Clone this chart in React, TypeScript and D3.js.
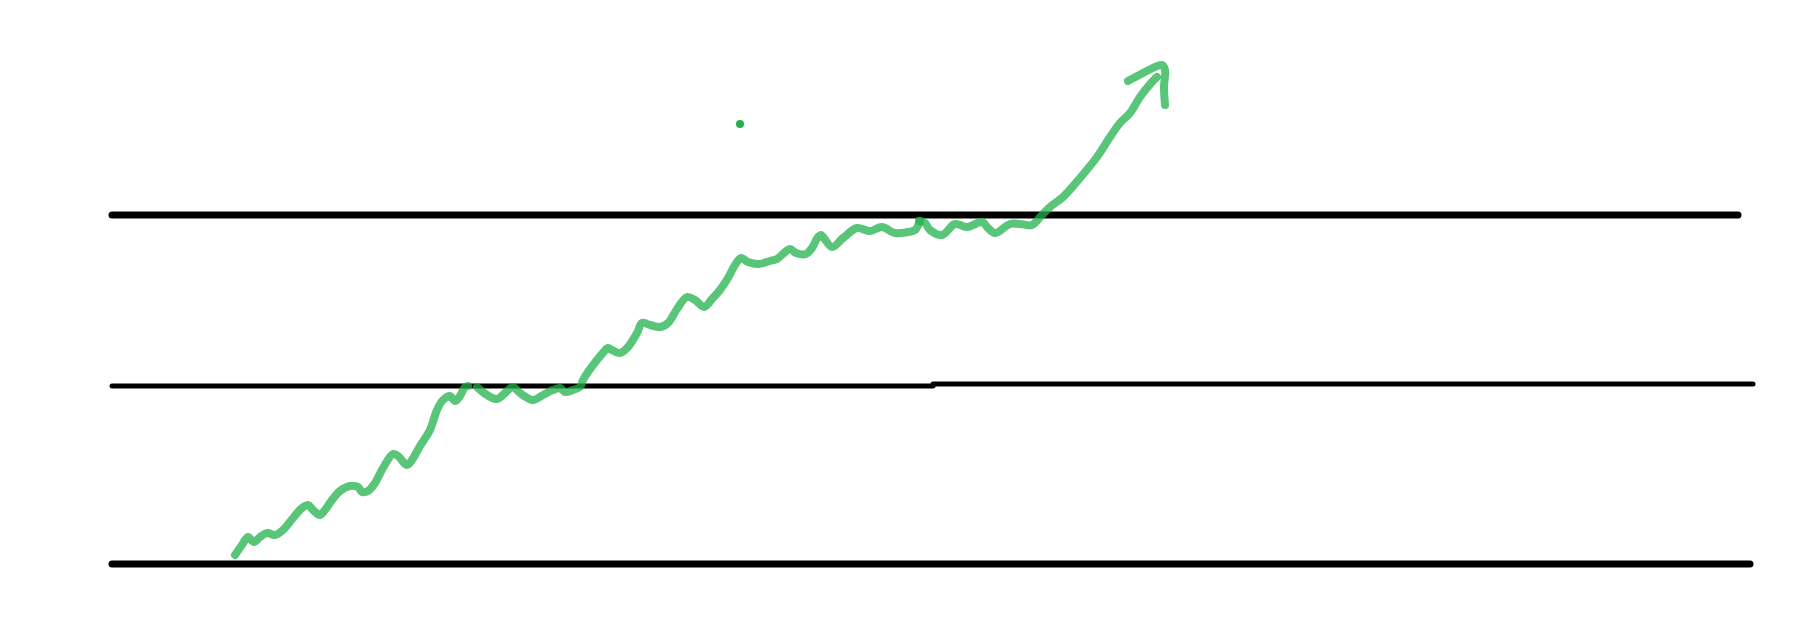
import * as d3 from "d3";
import React from "react";

// hand drawn trend chart: three guide lines and a wobbly green line with an arrow
const W = 1809;
const H = 636;

// guide levels (value units) and their extents along x
const guideLevels = [
  { x0: 0, x1: 163.8, y: 0, w: 7 },
  { x0: 0, x1: 82.1, y: 17.8, w: 5 },
  { x0: 82.1, x1: 164.1, y: 18.0, w: 5 },
  { x0: 0, x1: 162.6, y: 34.9, w: 7 },
];

// the green line was drawn in three strokes
const strokeA: [number, number][] = [
  [12.3, 0.9], [13.0, 1.9], [13.6, 2.7], [14.2, 2.2], [14.8, 2.7], [15.5, 3.1],
  [16.3, 2.9], [17.1, 3.4], [18.1, 4.6], [19.0, 5.6], [19.6, 5.9], [20.1, 5.4],
  [20.8, 4.9], [21.3, 5.4], [22.0, 6.4], [22.8, 7.3], [23.8, 7.8], [24.6, 7.7],
  [25.0, 7.2], [25.6, 7.3], [26.3, 8.1], [27.1, 9.6], [28.1, 11.0], [28.6, 10.8],
  [29.5, 9.9], [30.0, 10.4], [30.8, 11.8], [31.8, 13.4], [32.5, 15.4], [33.1, 16.4],
  [33.8, 16.8], [34.3, 16.3], [34.8, 16.8], [35.3, 17.7], [35.6, 17.8],
];

const strokeB: [number, number][] = [
  [36.5, 17.7], [37.5, 16.9], [38.5, 16.5], [39.3, 17.1], [40.1, 17.7], [40.8, 17.1],
  [42.1, 16.4], [43.1, 16.9], [44.1, 17.4], [44.8, 17.6], [45.3, 17.2], [46.1, 17.4],
  [46.8, 17.7], [47.1, 18.4], [47.6, 19.2], [48.5, 20.4], [49.0, 21.0], [49.6, 21.6],
  [50.0, 21.4], [50.8, 21.1], [51.6, 21.7], [52.5, 23.1], [53.0, 24.1], [53.8, 23.9],
  [54.8, 23.7], [55.6, 24.1], [56.5, 25.5], [57.5, 26.7], [58.3, 26.4], [59.2, 25.7],
  [60.0, 26.5], [60.8, 27.4], [61.6, 28.6], [62.3, 29.9], [62.9, 30.6], [63.6, 30.2],
  [64.7, 30.0], [65.8, 30.3], [66.5, 30.5], [67.2, 31.1], [67.8, 31.5], [68.4, 31.1],
  [69.4, 31.0], [70.0, 31.6], [70.6, 32.7], [70.9, 32.9], [72.0, 31.7], [73.1, 32.6],
  [74.5, 33.6], [75.8, 33.3], [77.0, 33.7], [78.3, 33.1], [79.6, 33.2], [80.3, 33.4],
  [80.8, 34.3],
];

const strokeC: [number, number][] = [
  [80.7, 34.3], [81.3, 34.1], [81.8, 33.4], [83.0, 32.9], [84.3, 34.0], [85.5, 33.7],
  [87.0, 34.2], [87.6, 33.6], [88.3, 33.1], [89.8, 34.0], [90.8, 34.0], [92.0, 33.9],
  [93.0, 34.9], [93.8, 35.7], [95.1, 36.7], [96.8, 38.6], [98.5, 40.7], [99.8, 42.7],
  [100.8, 44.1], [101.8, 45.1], [102.8, 46.7], [104.0, 48.2], [104.5, 48.7],
];

const arrowHead: [number, number][] = [
  [101.6, 48.3], [103.1, 49.1], [104.3, 49.7], [105.0, 49.9], [105.3, 49.4],
  [105.2, 47.7], [105.3, 45.9],
];

const dots: [number, number][] = [[62.8, 44.0]];

const green = "#22b14c";

export default function App() {
  const xScale = d3.scaleLinear().domain([0, 164.1]).range([112, 1753]);
  const yScale = d3.scaleLinear().domain([0, 34.9]).range([564, 215]);

  const line = d3
    .line<[number, number]>()
    .x((d) => xScale(d[0]))
    .y((d) => yScale(d[1]))
    .curve(d3.curveCatmullRom.alpha(0.5));

  const strokes = [strokeA, strokeB, strokeC, arrowHead];

  return (
    <svg
      width={W}
      height={H}
      style={{ position: "absolute", left: 0, top: 0, display: "block", background: "#fff" }}
    >
      {guideLevels.map((g, i) => (
        <line
          key={"g" + i}
          x1={xScale(g.x0)}
          x2={xScale(g.x1)}
          y1={yScale(g.y)}
          y2={yScale(g.y)}
          stroke="#000"
          strokeWidth={g.w}
          strokeLinecap="round"
        />
      ))}
      {strokes.map((s, i) => (
        <path
          key={"s" + i}
          d={line(s) || ""}
          fill="none"
          stroke={green}
          strokeOpacity={0.75}
          strokeWidth={8}
          strokeLinecap="round"
          strokeLinejoin="round"
        />
      ))}
      {dots.map((d, i) => (
        <circle key={"d" + i} cx={xScale(d[0])} cy={yScale(d[1])} r={4} fill={green} />
      ))}
    </svg>
  );
}
